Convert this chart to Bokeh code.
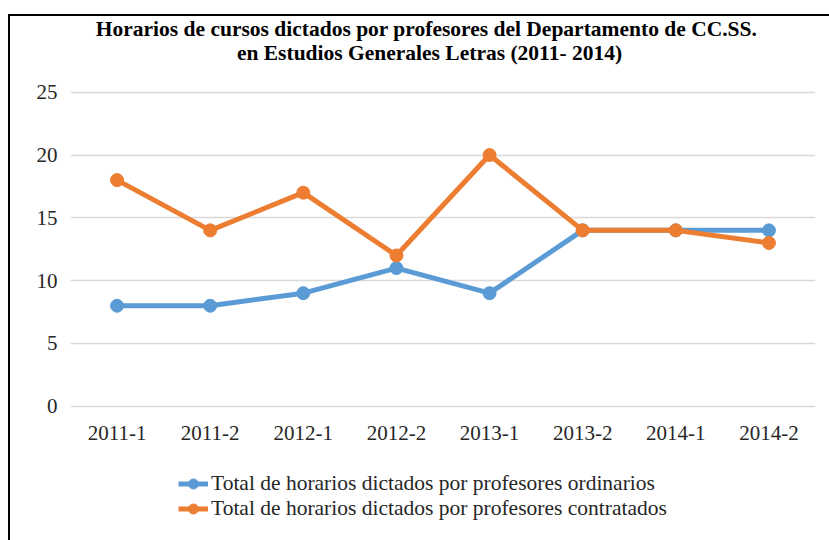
from bokeh.plotting import figure
from bokeh.models import (Legend, LegendItem, FixedTicker, Range1d, FactorRange, Label)
from bokeh.embed import file_html
from bokeh.resources import INLINE

# ---- data ----
periods = ["2011-1", "2011-2", "2012-1", "2012-2", "2013-1", "2013-2", "2014-1", "2014-2"]
ordinarios = [8, 8, 9, 11, 9, 14, 14, 14]
contratados = [18, 14, 17, 12, 20, 14, 14, 13]
y_ticks = [0, 5, 10, 15, 20, 25]
title_lines = ["Horarios de cursos dictados por profesores del Departamento de CC.SS.",
               "en Estudios Generales Letras (2011- 2014)"]
legend_labels = ["Total de horarios dictados por profesores ordinarios",
                 "Total de horarios dictados por profesores contratados"]

BLUE = "#5B9BD5"
ORANGE = "#ED7D31"
FONT = "Liberation Serif"
TXT = "#262626"

# the frame covers the full height; the value scale keeps 0..25 in its usual place,
# the space above holds the title and the space below the category labels and legend
p = figure(x_range=FactorRange(factors=periods), y_range=Range1d(-10.69, 32.30),
           width=829, height=540, output_backend="svg", toolbar_location=None,
           min_border_left=70, min_border_right=14, min_border_top=0,
           min_border_bottom=0)
p.outline_line_color = None
p.border_fill_color = None
p.background_fill_alpha = 0
# chart border (top and left edges)
p.styles = {"background": "linear-gradient(#000,#000) 8px 14px / 821px 2px no-repeat, "
                          "linear-gradient(#000,#000) 8px 14px / 2px 526px no-repeat, #fff"}

# axes
for ax in (p.xaxis, p.yaxis):
    ax.axis_line_color = None
    ax.major_tick_line_color = None
    ax.minor_tick_line_color = None
    ax.major_label_text_font = FONT
    ax.major_label_text_font_size = "21px"
    ax.major_label_text_color = TXT
p.yaxis.ticker = FixedTicker(ticks=y_ticks)
p.yaxis.major_label_text_align = "left"
p.yaxis.major_label_standoff = 7
p.xaxis.fixed_location = 0
p.xaxis.major_label_standoff = 14

p.xgrid.grid_line_color = None
p.ygrid.grid_line_color = "#D9D9D9"
p.ygrid.grid_line_width = 1.5
p.ygrid.ticker = FixedTicker(ticks=y_ticks)

# series
l1 = p.line(periods, ordinarios, line_color=BLUE, line_width=5)
s1 = p.scatter(periods, ordinarios, marker="circle", size=13, fill_color=BLUE, line_color=BLUE)
l2 = p.line(periods, contratados, line_color=ORANGE, line_width=5)
s2 = p.scatter(periods, contratados, marker="circle", size=13, fill_color=ORANGE, line_color=ORANGE)

legend = Legend(items=[LegendItem(label=legend_labels[0], renderers=[l1, s1]),
                       LegendItem(label=legend_labels[1], renderers=[l2, s2])],
                location=(108, 19), orientation="vertical",
                label_text_font=FONT, label_text_font_size="21.5px", label_text_color=TXT,
                glyph_width=30, glyph_height=25, label_height=25, label_standoff=3,
                spacing=0, padding=0, margin=0,
                border_line_color=None, background_fill_alpha=0)
p.add_layout(legend, "center")

# title (two lines), positioned in pixels from the frame's bottom-left corner
for txt, x, y in ((title_lines[0], 356, 511.2), (title_lines[1], 359, 487.8)):
    p.add_layout(Label(x=x, y=y, x_units="screen", y_units="screen", text=txt,
                       text_align="center", text_baseline="alphabetic", text_font=FONT,
                       text_font_size="21.5px", text_font_style="bold", text_color="black"))

open("out.html", "w").write(file_html(p, INLINE))
